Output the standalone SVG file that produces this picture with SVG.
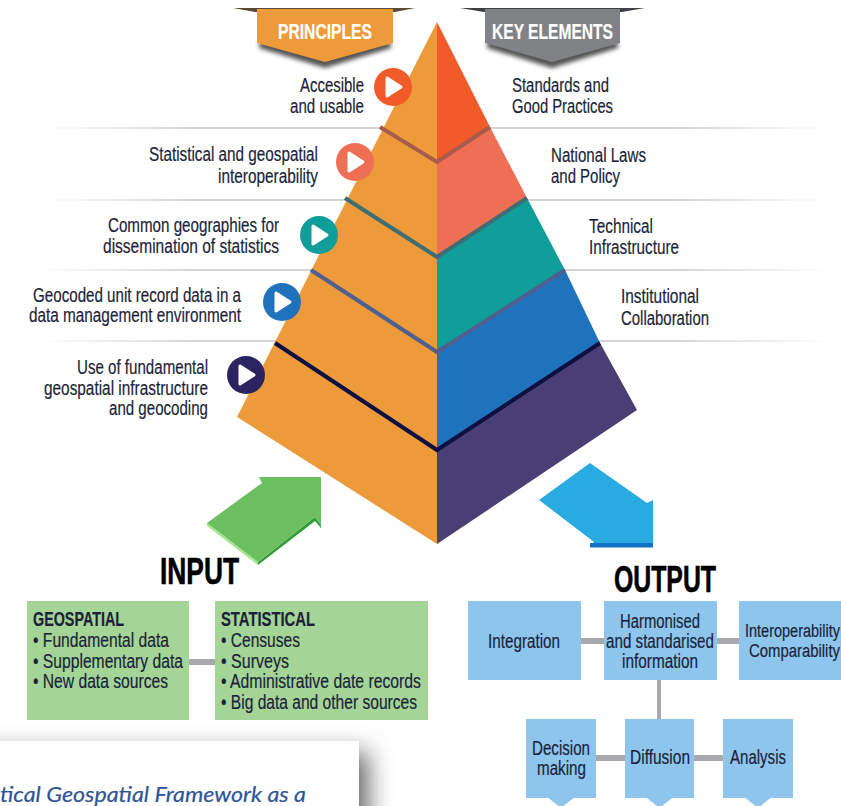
<svg xmlns="http://www.w3.org/2000/svg" width="841" height="806" viewBox="0 0 841 806">
<style>
text{font-family:"Liberation Sans",Arial,sans-serif;fill:#1b1f3a;font-size:20px;stroke:#1b1f3a;stroke-width:.2px}
.w{fill:#fff;stroke:#fff;font-weight:700;font-size:22px}
.b{font-weight:700}
.h{font-weight:700;fill:#000;font-size:36px;stroke:#000;stroke-width:.6px}
.o{fill:#ED9A3B}
.g{fill:#8DC5EC}
.l{fill:#A5D497}
.c{stroke:#A7A9AC;fill:none}
.p{fill:#fff;stroke:#fff;stroke-width:3;stroke-linejoin:round}
.r{fill:url(#fade)}
.s{font-size:18px}
</style>
<defs>
<linearGradient id="fade" x1="0" x2="1" y1="0" y2="0"><stop offset="0" stop-color="#d8d8d8" stop-opacity="0"/><stop offset=".2" stop-color="#d4d4d4"/><stop offset=".8" stop-color="#d4d4d4"/><stop offset="1" stop-color="#d8d8d8" stop-opacity="0"/></linearGradient>
<filter id="soft" x="-20%" y="-50%" width="140%" height="200%"><feGaussianBlur stdDeviation="2"/></filter>
<filter id="wide" x="-20%" y="-60%" width="140%" height="220%"><feGaussianBlur stdDeviation="12"/></filter>
</defs>
<rect width="841" height="806" fill="#fff"/>
<g id="rules">
<rect class="r" x="40" y="127" width="790" height="2"/>
<rect class="r" x="40" y="199" width="790" height="2"/>
<rect class="r" x="40" y="269" width="790" height="2"/>
<rect class="r" x="40" y="340" width="790" height="2"/>
</g>
<g id="banner-principles">
<path d="M233 8H415L395 12H255Z" fill="#5a4a35"/>
<path d="M259 48L325 68L391 48V42H259Z" fill="#555" filter="url(#soft)"/>
<path d="M257 9H393V43L325 62L257 43Z" class="o"/>
<text class="w" x="278" y="39" textLength="94" lengthAdjust="spacingAndGlyphs">PRINCIPLES</text>
</g>
<g id="banner-key-elements">
<path d="M460 8H645L622 12H484Z" fill="#3f4145"/>
<path d="M487 48L552 68L618 48V42H487Z" fill="#555" filter="url(#soft)"/>
<path d="M485 9H620V43L552 62L485 43Z" fill="#808285"/>
<text class="w" x="492" y="39" textLength="121" lengthAdjust="spacingAndGlyphs">KEY ELEMENTS</text>
</g>
<g id="pyramid">
<path d="M437 22L237 417L437 544Z" class="o"/>
<path d="M437 22L490 127L437 162Z" fill="#F15A29"/>
<path d="M490 127L527 198L437 257V162Z" fill="#EF6F55"/>
<path d="M527 198L565 270L437 352V257Z" fill="#0F9E9A"/>
<path d="M565 270L600 343L437 450V352Z" fill="#1F72BC"/>
<path d="M600 343L637 410L437 544V450Z" fill="#4A3F74"/>
<path d="M380 127L437 162L490 127" fill="none" stroke="#A85B4C" stroke-width="4"/>
<path d="M345 198L437 257L527 198" fill="none" stroke="#3F6E72" stroke-width="4"/>
<path d="M311 270L437 352L565 270" fill="none" stroke="#4F6090" stroke-width="4"/>
<path d="M275 343L437 450L600 343" fill="none" stroke="#0D1040" stroke-width="4"/>
</g>
<g id="p1"><circle cx="393" cy="87" r="19" fill="#F15A29"/><path class="p" d="M387 78L401 87L387 96Z"/>
<text x="300" y="92" textLength="64" lengthAdjust="spacingAndGlyphs">Accesible</text><text x="290" y="113" textLength="74" lengthAdjust="spacingAndGlyphs">and usable</text></g>
<g id="p2"><circle cx="355" cy="162" r="19" fill="#EF6F55"/><path class="p" d="M349 153L363 162L349 171Z"/>
<text x="149" y="161" textLength="169" lengthAdjust="spacingAndGlyphs">Statistical and geospatial</text><text x="218" y="183" textLength="100" lengthAdjust="spacingAndGlyphs">interoperability</text></g>
<g id="p3"><circle cx="319" cy="235" r="19" fill="#0F9E9A"/><path class="p" d="M313 226L327 235L313 244Z"/>
<text x="108" y="232" textLength="171" lengthAdjust="spacingAndGlyphs">Common geographies for</text><text x="103" y="253" textLength="176" lengthAdjust="spacingAndGlyphs">dissemination of statistics</text></g>
<g id="p4"><circle cx="282" cy="302" r="19" fill="#1F72BC"/><path class="p" d="M276 293L290 302L276 311Z"/>
<text x="33" y="302" textLength="208" lengthAdjust="spacingAndGlyphs">Geocoded unit record data in a</text><text x="29" y="322" textLength="212" lengthAdjust="spacingAndGlyphs">data management environment</text></g>
<g id="p5"><circle cx="246" cy="375" r="19" fill="#2A2560"/><path class="p" d="M240 366L254 375L240 384Z"/>
<text x="77" y="374" textLength="131" lengthAdjust="spacingAndGlyphs">Use of fundamental</text><text x="44" y="395" textLength="164" lengthAdjust="spacingAndGlyphs">geospatial infrastructure</text><text x="109" y="415" textLength="99" lengthAdjust="spacingAndGlyphs">and geocoding</text></g>
<g id="e1"><text x="512" y="92" textLength="97" lengthAdjust="spacingAndGlyphs">Standards and</text><text x="512" y="113" textLength="101" lengthAdjust="spacingAndGlyphs">Good Practices</text></g>
<g id="e2"><text x="551" y="162" textLength="95" lengthAdjust="spacingAndGlyphs">National Laws</text><text x="551" y="183" textLength="69" lengthAdjust="spacingAndGlyphs">and Policy</text></g>
<g id="e3"><text x="589" y="233" textLength="64" lengthAdjust="spacingAndGlyphs">Technical</text><text x="589" y="254" textLength="90" lengthAdjust="spacingAndGlyphs">Infrastructure</text></g>
<g id="e4"><text x="621" y="303" textLength="78" lengthAdjust="spacingAndGlyphs">Institutional</text><text x="621" y="325" textLength="88" lengthAdjust="spacingAndGlyphs">Collaboration</text></g>
<g id="arrow-input">
<path d="M207 523L258 562L258 565L207 526Z" fill="#A5E58C"/>
<path d="M258 562L315 517L321 525V528L315 521L258 565Z" fill="#2F9E35"/>
<path d="M207 523L262 483L259 477H321V525L315 517L258 562Z" fill="#6CBF60"/>
</g>
<g id="arrow-output">
<path d="M539 500L590 463L647 503L653 500V547H590L594 542Z" fill="#29ABE2"/>
<rect x="590" y="543" width="63" height="4.500" fill="#0F72C4"/>
</g>
<text class="h" x="160" y="584" textLength="79" lengthAdjust="spacingAndGlyphs">INPUT</text>
<text class="h" x="614" y="592" textLength="102" lengthAdjust="spacingAndGlyphs">OUTPUT</text>
<g id="connectors">
<path class="c" stroke-width="6" d="M189 662H215"/>
<path class="c" stroke-width="6" d="M581 641H604M717 641H739"/>
<path class="c" stroke-width="4" d="M659 680V719"/>
<path class="c" stroke-width="6" d="M596 758H625M694 758H723"/>
</g>
<g id="geospatial"><rect class="l" x="27" y="601" width="162" height="119"/>
<text class="b" x="33" y="626" textLength="91" lengthAdjust="spacingAndGlyphs">GEOSPATIAL</text>
<text x="33" y="647" textLength="136" lengthAdjust="spacingAndGlyphs">• Fundamental data</text>
<text x="33" y="668" textLength="150" lengthAdjust="spacingAndGlyphs">• Supplementary data</text>
<text x="33" y="688" textLength="135" lengthAdjust="spacingAndGlyphs">• New data sources</text></g>
<g id="statistical"><rect class="l" x="215" y="601" width="213" height="119"/>
<text class="b" x="221" y="626" textLength="94" lengthAdjust="spacingAndGlyphs">STATISTICAL</text>
<text x="221" y="647" textLength="79" lengthAdjust="spacingAndGlyphs">• Censuses</text>
<text x="221" y="668" textLength="68" lengthAdjust="spacingAndGlyphs">• Surveys</text>
<text x="221" y="688" textLength="200" lengthAdjust="spacingAndGlyphs">• Administrative date records</text>
<text x="221" y="709" textLength="196" lengthAdjust="spacingAndGlyphs">• Big data and other sources</text></g>
<g id="integration"><rect class="g" x="468" y="601" width="113" height="79"/><text x="488" y="648" textLength="72" lengthAdjust="spacingAndGlyphs">Integration</text></g>
<g id="harmonised"><rect class="g" x="604" y="601" width="113" height="79"/>
<text x="620" y="628" textLength="80" lengthAdjust="spacingAndGlyphs">Harmonised</text>
<text x="606" y="648" textLength="108" lengthAdjust="spacingAndGlyphs">and standarised</text>
<text x="622" y="668" textLength="76" lengthAdjust="spacingAndGlyphs">information</text></g>
<g id="interoperability"><rect class="g" x="739" y="601" width="102" height="79"/>
<text class="s" x="745" y="637" textLength="95" lengthAdjust="spacingAndGlyphs">Interoperability</text>
<text class="s" x="749" y="657" textLength="91" lengthAdjust="spacingAndGlyphs">Comparability</text></g>
<g id="decision"><path class="g" d="M526 719H596V798H573.500L561 808L548.500 798H526Z"/>
<text x="532" y="755" textLength="58" lengthAdjust="spacingAndGlyphs">Decision</text><text x="537" y="775" textLength="49" lengthAdjust="spacingAndGlyphs">making</text></g>
<g id="diffusion"><path class="g" d="M625 719H694V798H672L659.500 808L647 798H625Z"/>
<text x="630" y="764" textLength="60" lengthAdjust="spacingAndGlyphs">Diffusion</text></g>
<g id="analysis"><path class="g" d="M723 719H793V798H770.500L758 808L745.500 798H723Z"/>
<text x="730" y="764" textLength="56" lengthAdjust="spacingAndGlyphs">Analysis</text></g>
<g id="card">
<rect x="-30" y="752" width="398" height="90" fill="#666" filter="url(#wide)"/>
<rect x="0" y="741" width="359" height="65" fill="#fff"/>
<text x="0" y="802" textLength="306" lengthAdjust="spacingAndGlyphs" style="font-family:Lato,'Open Sans',sans-serif;font-style:italic;font-size:22px;fill:#2F5597;stroke:#2F5597">tical Geospatial Framework as a</text>
</g>
</svg>
